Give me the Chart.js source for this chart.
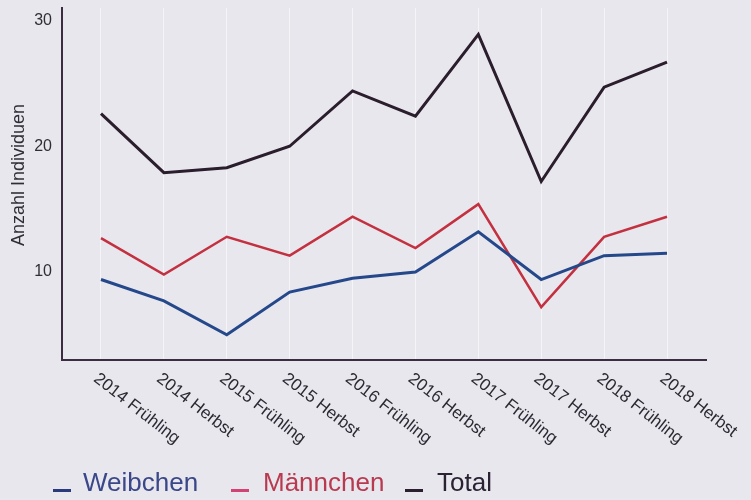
<!DOCTYPE html>
<html>
<head>
<meta charset="utf-8">
<script src="https://cdn.jsdelivr.net/npm/chart.js@4"></script>
<style>
  body { margin: 0; background: #e8e7ee; }
  #wrap { position: relative; width: 751px; height: 500px; background: #e8e7ee; }
  .lg { position: absolute; top: 467px; font: 26px "Liberation Sans", Arial, sans-serif; line-height: 30px; }
  .mk { position: absolute; top: 489px; width: 18px; height: 3px; }
</style>
</head>
<body>
<div id="wrap">
  <canvas id="c" width="751" height="500"></canvas>
  <div class="mk" style="left:53px;background:#2a3a7c"></div>
  <div class="lg" style="left:83px;color:#3a4788">Weibchen</div>
  <div class="mk" style="left:231px;background:#d24274"></div>
  <div class="lg" style="left:263px;color:#b83a50">Männchen</div>
  <div class="mk" style="left:405px;background:#2a2030"></div>
  <div class="lg" style="left:437px;color:#2a2232">Total</div>
</div>
<script>
// values
const labels = ['2014 Frühling', '2014 Herbst', '2015 Frühling', '2015 Herbst', '2016 Frühling',
  '2016 Herbst', '2017 Frühling', '2017 Herbst', '2018 Frühling', '2018 Herbst'];
const weibchen = [9.4, 7.7, 5.0, 8.4, 9.5, 10.0, 13.2, 9.4, 11.3, 11.5];
const maennchen = [12.7, 9.8, 12.8, 11.3, 14.4, 11.9, 15.4, 7.2, 12.8, 14.4];
const total = [22.6, 17.9, 18.3, 20.0, 24.4, 22.4, 28.9, 17.2, 24.7, 26.7];
const yTicks = [10, 20, 30];
const yTitle = 'Anzahl Individuen';

const pts = arr => arr.map((v, i) => ({ x: i, y: v }));
const FONT = '"Liberation Sans", Arial, sans-serif';

// x labels run down to the right, which chart.js can't do itself
const slantedLabels = {
  id: 'slantedLabels',
  afterDraw(chart) {
    const xs = chart.scales.x;
    const ctx = chart.ctx;
    ctx.save();
    ctx.font = '17px ' + FONT;
    ctx.fillStyle = '#2b2a33';
    ctx.textAlign = 'left';
    ctx.textBaseline = 'top';
    labels.forEach((l, i) => {
      ctx.save();
      ctx.translate(xs.getPixelForValue(i), 370);
      ctx.rotate(38 * Math.PI / 180);
      ctx.fillText(l, 0, 0);
      ctx.restore();
    });
    // y title sits a bit above the middle of the axis in the scan
    ctx.font = '18px ' + FONT;
    ctx.fillStyle = '#2f2e36';
    ctx.textAlign = 'center';
    ctx.textBaseline = 'middle';
    ctx.translate(19, 175);
    ctx.rotate(-Math.PI / 2);
    ctx.fillText(yTitle, 0, 0);
    ctx.restore();
  }
};

new Chart(document.getElementById('c'), {
  type: 'line',
  data: {
    datasets: [
      { label: 'Weibchen', data: pts(weibchen), borderColor: '#25488a', borderWidth: 3, pointRadius: 0 },
      { label: 'Männchen', data: pts(maennchen), borderColor: '#c3303f', borderWidth: 2.5, pointRadius: 0 },
      { label: 'Total', data: pts(total), borderColor: '#2a1d2c', borderWidth: 3, pointRadius: 0 }
    ]
  },
  options: {
    responsive: false,
    animation: false,
    layout: { padding: { left: 0, top: 8, right: 45, bottom: 140 } },
    plugins: { legend: { display: false }, tooltip: { enabled: false } },
    scales: {
      x: {
        type: 'linear',
        min: -0.62,
        max: labels.length - 1 + 0.62,
        afterBuildTicks: s => { s.ticks = labels.map((_, i) => ({ value: i })); },
        afterFit: s => { s.height = 0; s.paddingLeft = 0; s.paddingRight = 0; },
        ticks: { display: false },
        grid: { color: 'rgba(255,255,255,0.55)', lineWidth: 1, drawTicks: false },
        border: { color: '#3b2c42', width: 2 }
      },
      y: {
        min: 3,
        max: 31,
        afterBuildTicks: s => { s.ticks = yTicks.map(v => ({ value: v })); },
        afterFit: s => { s.width = 62; s.paddingTop = 0; s.paddingBottom = 0; },
        ticks: { color: '#2f2e36', font: { size: 16, family: FONT }, padding: 10 },
        grid: { display: false, drawTicks: false },
        border: { color: '#3b2c42', width: 2 }
      }
    }
  },
  plugins: [slantedLabels]
});
</script>
</body>
</html>
